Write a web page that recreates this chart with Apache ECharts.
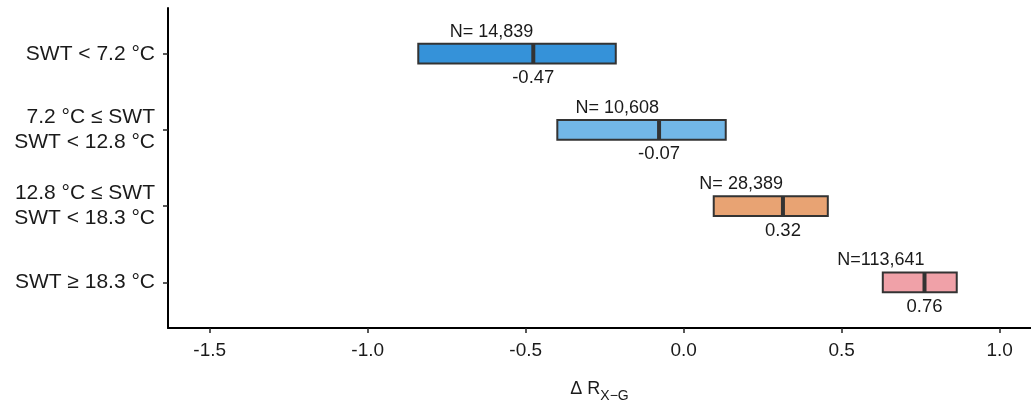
<!DOCTYPE html>
<html>
<head>
<meta charset="utf-8">
<script src="https://cdn.jsdelivr.net/npm/echarts@6/dist/echarts.min.js"></script>
<style>
html,body{margin:0;padding:0;background:#fff;}
#chart{width:1031px;height:400px;}
</style>
</head>
<body>
<div id="chart"></div>
<script>
const categories = ["SWT < 7.2 °C", "7.2 °C ≤ SWT\nSWT < 12.8 °C", "12.8 °C ≤ SWT\nSWT < 18.3 °C", "SWT ≥ 18.3 °C"];
const lowerValues = [-0.84, -0.40, 0.095, 0.63];
const upperValues = [-0.215, 0.133, 0.456, 0.864];
const medianValues = [-0.476, -0.078, 0.314, 0.762];
const medianLabels = ["-0.47", "-0.07", "0.32", "0.76"];
const nLabels = ["N= 14,839", "N= 10,608", "N= 28,389", "N=113,641"];
const colors = ["#3592d9", "#72b7e7", "#e8a373", "#f0a1a8"];
const xTicks = [-1.5, -1.0, -0.5, 0.0, 0.5, 1.0];

const FONT = "Liberation Sans, Arial, sans-serif";
const data = categories.map((c, i) => [lowerValues[i], upperValues[i], medianValues[i], i + 1]);

const chart = echarts.init(document.getElementById('chart'));
chart.setOption({
  animation: false,
  grid: {left: 168, right: 0, top: 8, bottom: 72, containLabel: false, outerBoundsMode: 'none'},
  xAxis: {
    type: 'value', min: -1.632, max: 1.099,
    axisLine: {show: true, onZero: false, lineStyle: {color: '#000', width: 2}},
    axisTick: {show: true, customValues: xTicks, length: 5, lineStyle: {color: '#222', width: 1.5}},
    axisLabel: {customValues: xTicks, formatter: v => v.toFixed(1), color: '#1a1a1a', fontSize: 19, fontFamily: FONT, margin: 13},
    splitLine: {show: false},
    name: '{a|Δ R}{s|X−G}', nameLocation: 'middle', nameGap: 50,
    nameTextStyle: {rich: {
      a: {fontSize: 18, fontFamily: FONT, color: '#1a1a1a', verticalAlign: 'bottom', lineHeight: 20},
      s: {fontSize: 14, fontFamily: FONT, color: '#1a1a1a', verticalAlign: 'bottom', lineHeight: 14, padding: [0,0,-5,0]}
    }}
  },
  yAxis: {
    type: 'value', min: 0.4, max: 4.6, inverse: true,
    axisLine: {show: true, onZero: false, lineStyle: {color: '#000', width: 2}},
    axisTick: {show: true, customValues: [1, 2, 3, 4], length: 5, lineStyle: {color: '#222', width: 1.5}},
    axisLabel: {customValues: [1, 2, 3, 4], formatter: v => categories[Math.round(v) - 1], color: '#1a1a1a', fontSize: 21, fontFamily: FONT, margin: 13, lineHeight: 25, align: 'right'},
    splitLine: {show: false}
  },
  series: [{
    type: 'custom',
    data: data,
    encode: {x: [0, 1, 2], y: 3},
    clip: false,
    renderItem: function (params, api) {
      const idx = params.dataIndex;
      const cat = api.value(3);
      const lo = api.coord([api.value(0), cat]);
      const hi = api.coord([api.value(1), cat]);
      const md = api.coord([api.value(2), cat]);
      const h = api.size([0, 0.26])[1];
      const top = lo[1] - h / 2, bot = lo[1] + h / 2;
      return {
        type: 'group',
        children: [
          {type: 'rect', shape: {x: lo[0], y: top, width: hi[0] - lo[0], height: h},
           style: {fill: colors[idx], stroke: '#333', lineWidth: 2}},
          {type: 'line', shape: {x1: md[0], y1: top, x2: md[0], y2: bot},
           style: {stroke: '#333', lineWidth: 4}},
          {type: 'text', x: md[0], y: top - 3,
           style: {text: nLabels[idx], align: 'right', verticalAlign: 'bottom', fontSize: 18, fontFamily: FONT, fill: '#1a1a1a'}},
          {type: 'text', x: md[0], y: bot + 5,
           style: {text: medianLabels[idx], align: 'center', verticalAlign: 'top', fontSize: 18.5, fontFamily: FONT, fill: '#1a1a1a'}}
        ]
      };
    }
  }]
});
</script>
</body>
</html>
